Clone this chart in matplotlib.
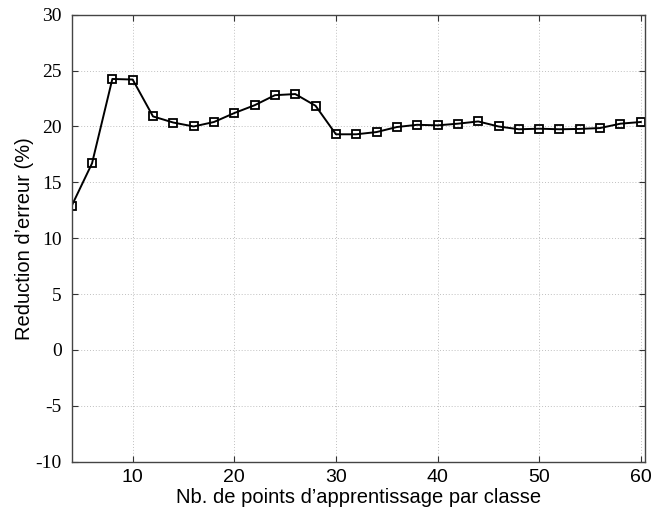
import matplotlib
matplotlib.use("Agg")
import matplotlib.pyplot as plt

plt.rcParams['axes.unicode_minus'] = False

# data
nb_points = list(range(4, 62, 2))
reduction = [12.9, 16.7, 24.25, 24.2, 20.9, 20.35, 20.0, 20.4, 21.2, 21.9,
             22.8, 22.9, 21.85, 19.3, 19.3, 19.5, 19.95, 20.15, 20.1, 20.25,
             20.45, 20.0, 19.75, 19.8, 19.75, 19.78, 19.86, 20.25, 20.4]

y_ticks = [-10, -5, 0, 5, 10, 15, 20, 25, 30]
x_ticks = [10, 20, 30, 40, 50, 60]

fig = plt.figure(figsize=(6.56, 5.13), dpi=100)
ax = fig.add_axes([0.1093, 0.1, 0.874, 0.8713])

ax.plot(nb_points, reduction, color='black', linewidth=1.4, marker='s',
        markersize=5.5, markerfacecolor='none', markeredgecolor='black',
        markeredgewidth=1.3)

ax.set_xlim(4, 60.42)
ax.set_ylim(-10, 30)
ax.set_xticks(x_ticks)
ax.set_yticks(y_ticks)
ax.grid(True, linestyle=(0, (1, 2)), color='#c0c0c0', linewidth=0.7)

ax.tick_params(direction='in', top=True, right=True, length=4, width=0.8,
               color='#333333')
ax.tick_params(axis='y', pad=7)
ax.tick_params(axis='x', pad=5)
for lbl in ax.get_yticklabels():
    lbl.set_fontfamily('Liberation Serif')
    lbl.set_fontsize(14)
for lbl in ax.get_xticklabels():
    lbl.set_fontfamily('Liberation Sans')
    lbl.set_fontsize(14)
for sp in ax.spines.values():
    sp.set_color('#444444')
    sp.set_linewidth(1.0)

ax.set_xlabel('Nb. de points d’apprentissage par classe',
              fontfamily='Liberation Sans', fontsize=14.5, labelpad=2)
ax.set_ylabel('Reduction d’erreur (%)', fontfamily='Liberation Sans',
              fontsize=14.5, labelpad=1)

fig.savefig('out.png', dpi=100)
